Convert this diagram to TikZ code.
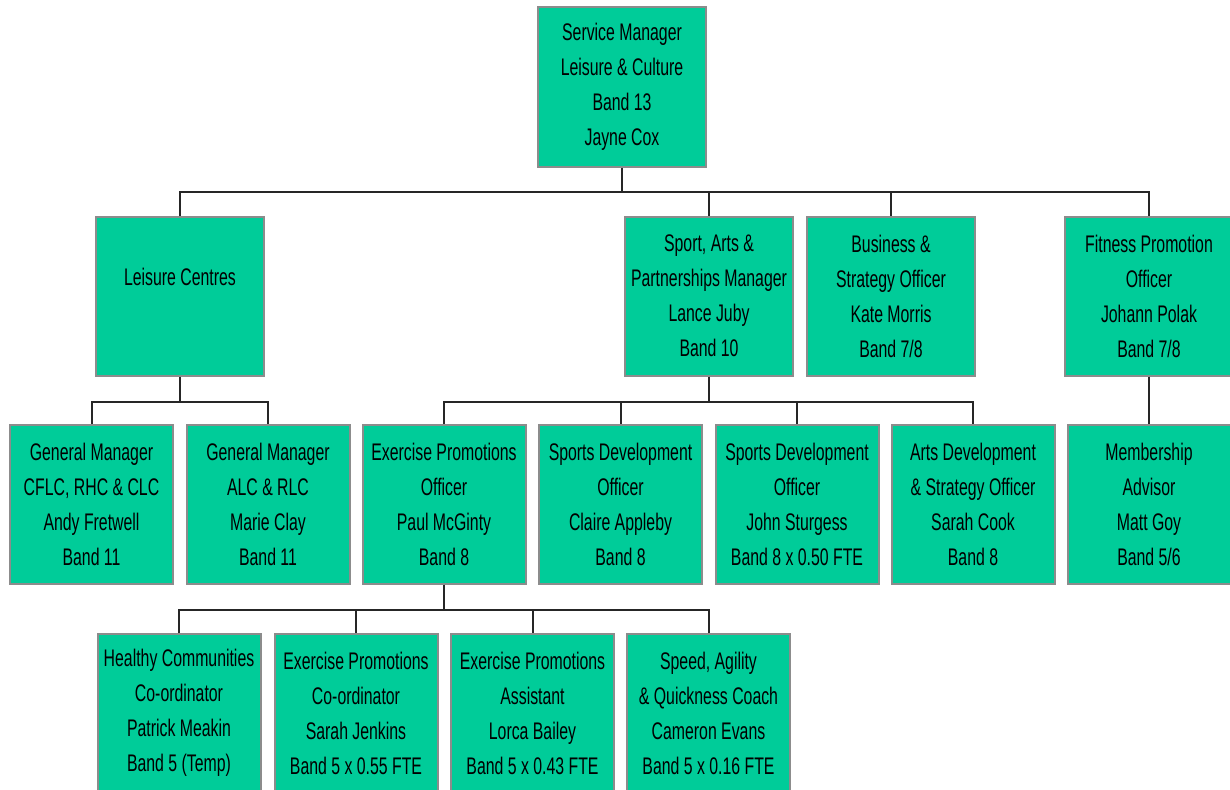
\documentclass[tikz,border=0pt]{standalone}
\usepackage{fontspec}
\setmainfont[FakeStretch=0.66]{Liberation Sans}
\usepackage{tikz}
\usetikzlibrary{calc}

\definecolor{boxgreen}{HTML}{00CC99}
\definecolor{boxgrey}{HTML}{8C8C8C}

\tikzset{
  post/.style={draw=boxgrey, line width=2pt, fill=boxgreen, align=center,
    inner sep=0pt, minimum width=#1, minimum height=159pt,
    font=\fontsize{24}{35}\selectfont},
  post/.default=163pt,
  link/.style={line width=2pt, draw=black!85},
}

\begin{document}
\begin{tikzpicture}[x=1pt,y=-1pt]
      % page size of the reference
      \useasboundingbox (0,0) rectangle (1230,789);

      % head of the service
      \node[post=168pt] (sm) at (622,87) {Service Manager\\Leisure \& Culture\\Band 13\\Jayne Cox};

      % second row
      \node[post=168pt] (lc) at (180,296) {\strut\\Leisure Centres\\\strut\\\strut};
      \node[post=168pt] (spm) at (709,296) {Sport, Arts \&\\Partnerships Manager\\Lance Juby\\Band 10};
      \node[post=168pt] (bso) at (891,296) {Business \&\\Strategy Officer\\Kate Morris\\Band 7/8};
      \node[post=168pt] (fpo) at (1149,296) {Fitness Promotion\\Officer\\Johann Polak\\Band 7/8};

      % third row
      \node[post] (gm1) at (91.5,504) {General Manager\\CFLC, RHC \& CLC\\Andy Fretwell\\Band 11};
      \node[post] (gm2) at (268,504) {General Manager\\ALC \& RLC\\Marie Clay\\Band 11};
      \node[post] (epo) at (444,504) {Exercise Promotions\\Officer\\Paul McGinty\\Band 8};
      \node[post] (sdo1) at (620.5,504) {Sports Development\\Officer\\Claire Appleby\\Band 8};
      \node[post] (sdo2) at (797,504) {Sports Development\\Officer\\John Sturgess\\Band 8 x 0.50 FTE};
      \node[post] (ado) at (973,504) {Arts Development\\\& Strategy Officer\\Sarah Cook\\Band 8};
      \node[post] (ma) at (1149,504) {Membership\\Advisor\\Matt Goy\\Band 5/6};

      % fourth row, cut off by the page edge
      \node[post] (hcc) at (179,713) {Healthy Communities\\Co-ordinator\\Patrick Meakin\\Band 5 (Temp)};
      \node[post] (epc) at (356,713) {Exercise Promotions\\Co-ordinator\\Sarah Jenkins\\Band 5 x 0.55 FTE};
      \node[post] (epa) at (532.5,713) {Exercise Promotions\\Assistant\\Lorca Bailey\\Band 5 x 0.43 FTE};
      \node[post] (sac) at (708.5,713) {Speed, Agility\\\& Quickness Coach\\Cameron Evans\\Band 5 x 0.16 FTE};

      % reporting lines
      \draw[link] (sm.south) -- ++(0,24) coordinate (bus1);
      \foreach \n in {lc,spm,bso,fpo}
        \draw[link] (bus1) -| (\n.north);

      \draw[link] (lc.south) -- ++(0,25) coordinate (bus2);
      \foreach \n in {gm1,gm2}
        \draw[link] (bus2) -| (\n.north);

      \draw[link] (spm.south) -- ++(0,25) coordinate (bus3);
      \foreach \n in {epo,sdo1,sdo2,ado}
        \draw[link] (bus3) -| (\n.north);

      \draw[link] (fpo.south) -- (ma.north);

      \draw[link] (epo.south) -- ++(0,25) coordinate (bus4);
      \foreach \n in {hcc,epc,epa,sac}
        \draw[link] (bus4) -| (\n.north);
\end{tikzpicture}
\end{document}
